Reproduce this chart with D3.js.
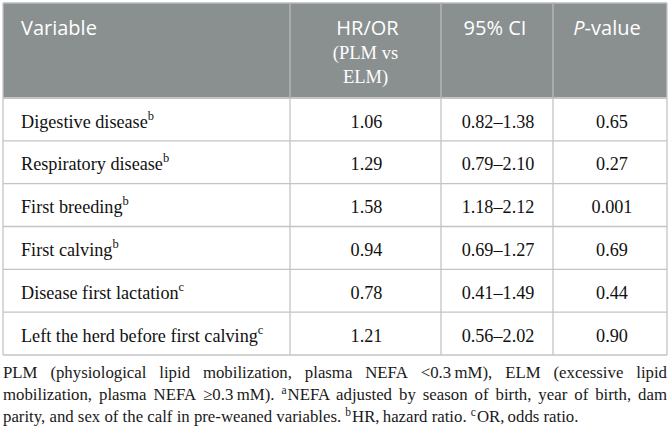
<!DOCTYPE html>
<html>
<head>
<meta charset="utf-8">
<script src="https://cdn.jsdelivr.net/npm/d3@7"></script>
<style>
  html, body { margin: 0; padding: 0; background: #fff; }
  svg { display: block; }
</style>
</head>
<body>
<svg id="chart" width="670" height="436"></svg>
<script>
// ---- data ----
const variables = ["Digestive disease", "Respiratory disease", "First breeding", "First calving", "Disease first lactation", "Left the herd before first calving"];
const variableNotes = ["b", "b", "b", "b", "c", "c"];
const hrOr = ["1.06", "1.29", "1.58", "0.94", "0.78", "1.21"];
const ciLow = ["0.82", "0.79", "1.18", "0.69", "0.41", "0.56"];
const ciHigh = ["1.38", "2.10", "2.12", "1.27", "1.49", "2.02"];
const pValues = ["0.65", "0.27", "0.001", "0.69", "0.44", "0.90"];
const footnoteLines = [
  "PLM (physiological lipid mobilization, plasma NEFA <0.3\u2009mM), ELM (excessive lipid",
  "mobilization, plasma NEFA \u22650.3\u2009mM). ^aNEFA adjusted by season of birth, year of birth, dam",
  "parity, and sex of the calf in pre-weaned variables. ^bHR, hazard ratio. ^cOR, odds ratio."
];

// ---- layout ----
const svg = d3.select("#chart");
const tLeft = 3, tRight = 667, tTop = 3, headBottom = 98, tableBottom = 355;
const colEdges = [tLeft, 290, 441, 553, tRight];
const sansFont = "'Open Sans', 'Noto Sans', sans-serif";
const serifFont = "'Liberation Serif', 'DejaVu Serif', serif";
const borderColor = "#c4c4c4";

const y = d3.scaleBand().domain(d3.range(variables.length)).range([headBottom, tableBottom]);

// header background
svg.append("rect").attr("x", tLeft).attr("y", tTop).attr("width", tRight - tLeft).attr("height", headBottom - tTop)
  .attr("fill", "#8a8f90");

// horizontal row lines
const hLines = [tTop, headBottom].concat(d3.range(variables.length).map(i => y(i) + y.bandwidth()));
svg.selectAll("line.h").data(hLines).join("line").attr("class", "h")
  .attr("x1", tLeft).attr("x2", tRight).attr("y1", d => d).attr("y2", d => d)
  .attr("stroke", (d, i) => i === 0 ? "#b9bcbd" : borderColor).attr("stroke-width", (d, i) => i === 1 ? 2 : 1.3);

// vertical lines
svg.selectAll("line.v").data(colEdges).join("line").attr("class", "v")
  .attr("x1", d => d).attr("x2", d => d).attr("y1", tTop).attr("y2", tableBottom)
  .attr("stroke", borderColor).attr("stroke-width", 1.3);
// header dividers slightly lighter on gray
svg.selectAll("line.vh").data(colEdges.slice(1, -1)).join("line").attr("class", "vh")
  .attr("x1", d => d).attr("x2", d => d).attr("y1", tTop).attr("y2", headBottom)
  .attr("stroke", "#a6aaab").attr("stroke-width", 1.3);

// header text
const colCenter = i => (colEdges[i] + colEdges[i + 1]) / 2;
const head = svg.append("g").attr("fill", "#fff");
head.append("text").attr("x", 21).attr("y", 35).attr("font-family", sansFont).attr("font-size", 20).text("Variable");
head.append("text").attr("x", colCenter(1) + 2).attr("y", 35).attr("text-anchor", "middle").attr("font-family", sansFont).attr("font-size", 20).text("HR/OR");
head.append("text").attr("x", colCenter(1)).attr("y", 59).attr("text-anchor", "middle").attr("font-family", serifFont).attr("font-size", 18.5).text("(PLM vs");
head.append("text").attr("x", colCenter(1)).attr("y", 83).attr("text-anchor", "middle").attr("font-family", serifFont).attr("font-size", 18.5).text("ELM)");
head.append("text").attr("x", colCenter(2) - 2).attr("y", 35).attr("text-anchor", "middle").attr("font-family", sansFont).attr("font-size", 20).text("95% CI");
const pt = head.append("text").attr("x", colCenter(3) - 3).attr("y", 35).attr("text-anchor", "middle").attr("font-family", sansFont).attr("font-size", 20);
pt.append("tspan").attr("font-style", "italic").text("P");
pt.append("tspan").text("-value");

// body rows
const body = svg.append("g").attr("font-family", serifFont).attr("font-size", 18.2).attr("fill", "#111");
const rows = body.selectAll("g.row").data(variables).join("g").attr("class", "row")
  .attr("transform", (d, i) => `translate(0,${y(i) + 29.5})`);
const vt = rows.append("text").attr("x", 21);
vt.append("tspan").text(d => d);
vt.append("tspan").attr("font-size", 12.5).attr("dy", -8).text((d, i) => variableNotes[i]);
rows.append("text").attr("x", colCenter(1) + 1).attr("text-anchor", "middle").text((d, i) => hrOr[i]);
rows.append("text").attr("x", colCenter(2) + 1).attr("text-anchor", "middle").text((d, i) => ciLow[i] + "\u2013" + ciHigh[i]);
rows.append("text").attr("x", colCenter(3) + 2).attr("text-anchor", "middle").text((d, i) => pValues[i]);

// footnote, justified
const foot = svg.append("g").attr("font-family", serifFont).attr("font-size", 16.8).attr("fill", "#1a1a1a");
const footBase = 378, footLH = 22;
function measureSpace() {
  const t1 = foot.append("text").text("a a"), t2 = foot.append("text").text("aa");
  const w = t1.node().getComputedTextLength() - t2.node().getComputedTextLength();
  t1.remove(); t2.remove();
  return w;
}
const spaceW = measureSpace();
footnoteLines.forEach((line, li) => {
  const words = line.split(" ");
  const nodes = words.map(w => {
    const t = foot.append("text").attr("y", footBase + li * footLH);
    const m = w.match(/^\^(\w)(.*)$/);
    if (m) {
      t.append("tspan").attr("font-size", 11.5).attr("dy", -6).text(m[1]);
      t.append("tspan").attr("dy", 6).attr("dx", 1).text(m[2]);
    } else {
      t.text(w);
    }
    return t;
  });
  const widths = nodes.map(n => n.node().getComputedTextLength());
  const total = d3.sum(widths);
  const isLast = li === footnoteLines.length - 1;
  const gap = isLast ? spaceW : (tRight - tLeft - total) / (words.length - 1);
  let x = tLeft;
  nodes.forEach((n, i) => { n.attr("x", x); x += widths[i] + gap; });
});
</script>
</body>
</html>
